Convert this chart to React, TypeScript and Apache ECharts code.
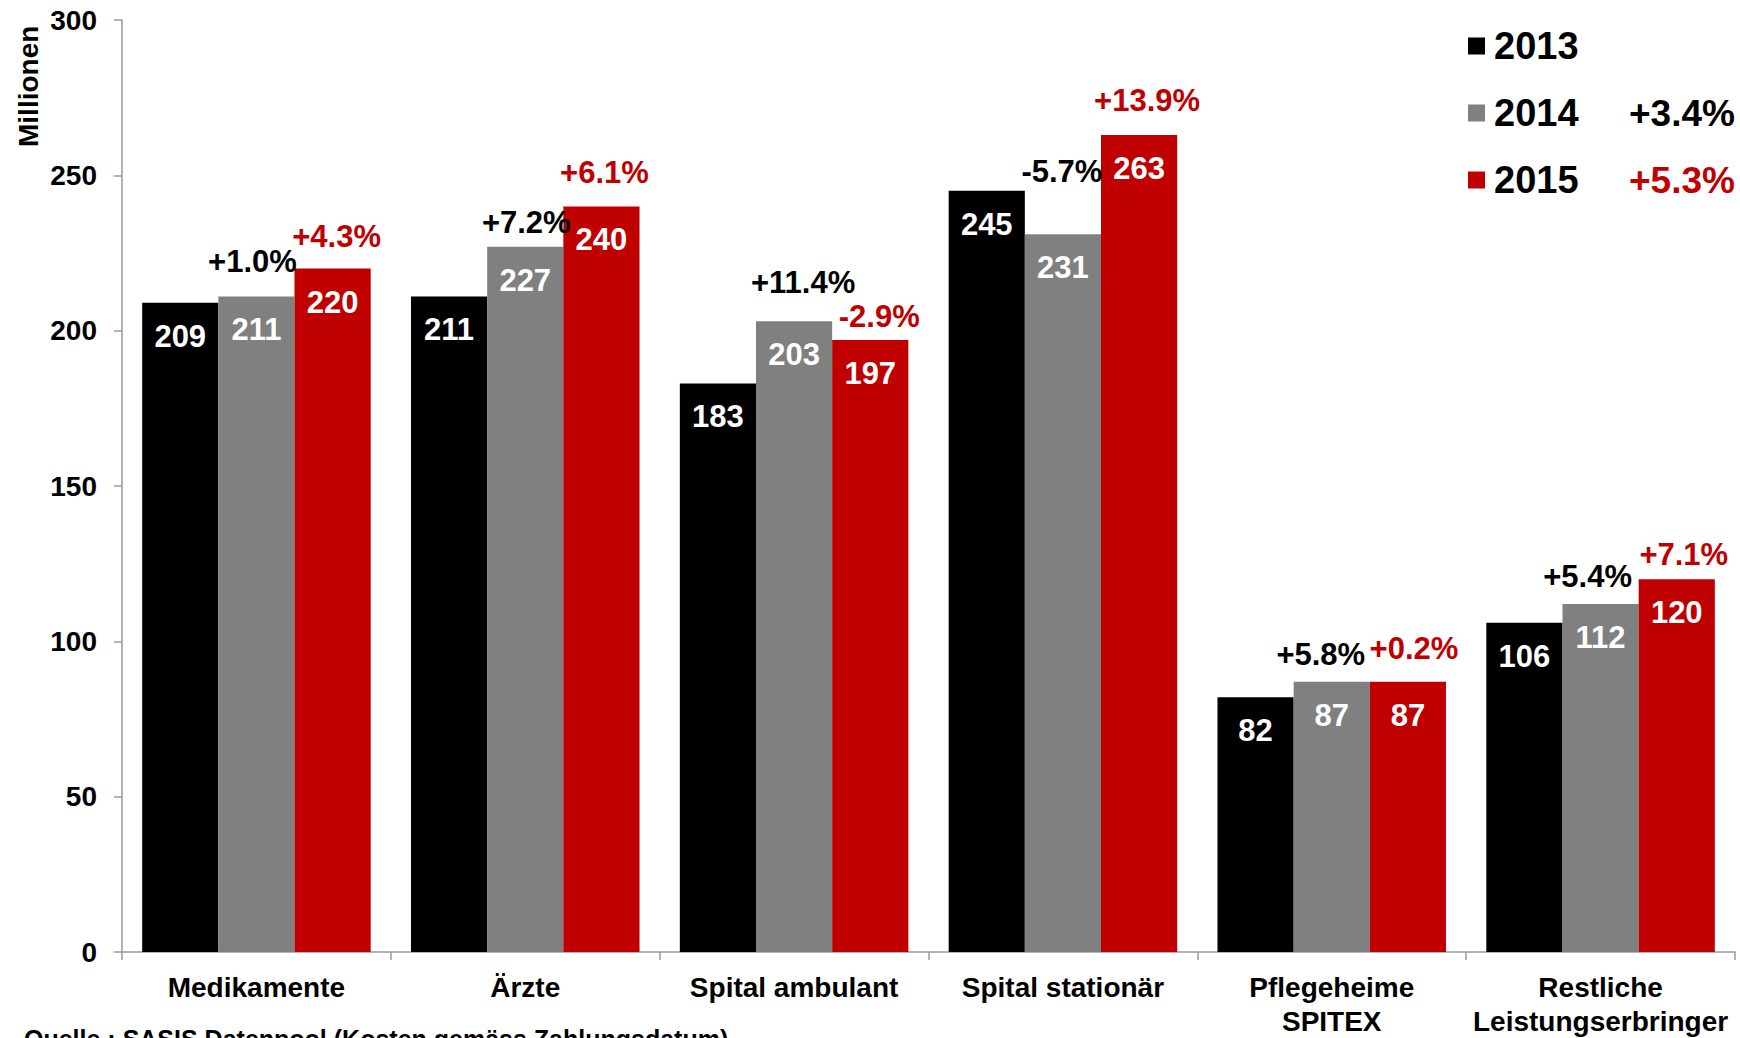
import React, { useEffect, useRef } from "react";
import * as echarts from "echarts";

const categories = [
  "Medikamente",
  "Ärzte",
  "Spital ambulant",
  "Spital stationär",
  "Pflegeheime\nSPITEX",
  "Restliche\nLeistungserbringer",
];
const years = ["2013", "2014", "2015"];
const values2013 = [209, 211, 183, 245, 82, 106];
const values2014 = [211, 227, 203, 231, 87, 112];
const values2015 = [220, 240, 197, 263, 87, 120];
const growth2014 = ["+1.0%", "+7.2%", "+11.4%", "-5.7%", "+5.8%", "+5.4%"];
const growth2015 = ["+4.3%", "+6.1%", "-2.9%", "+13.9%", "+0.2%", "+7.1%"];
const totalGrowth = ["", "+3.4%", "+5.3%"];
const yMin = 0;
const yMax = 300;
const yStep = 50;
const axisTitle = "Millionen";
const sourceNote = "Quelle : SASIS Datenpool (Kosten gemäss Zahlungsdatum)";

const FONT = "'Liberation Sans', Arial, sans-serif";
const BLACK = "#000000";
const GRAY = "#808080";
const RED = "#C00000";

// label placement tweaks [dx, distance above bar]
const lift14 = [[-4, 19], [1, 9], [9, 23], [-1, 47], [-11, 12], [-13, 12]];
const lift15 = [[4, 17], [3, 18], [9, 8], [8, 19], [6, 18], [7, 9]];

export default function App() {
  const ref = useRef<HTMLDivElement>(null);

  useEffect(() => {
    if (!ref.current) return;
    const chart = echarts.init(ref.current, null, { renderer: "svg" });

    const valueLabel = {
      show: true,
      position: "insideTop",
      distance: 18,
      color: "#ffffff",
      fontSize: 31,
      fontWeight: "bold",
      fontFamily: FONT,
    };

    const bar = (name: string, data: number[], color: string, stack?: string) => ({
      type: "bar",
      name,
      stack,
      data,
      barGap: "0%",
      barCategoryGap: "15%",
      itemStyle: { color },
      label: valueLabel,
    });

    const pctSeries = (stack: string, texts: string[], lift: number[][], color: string) => ({
      type: "bar",
      name: stack + "-pct",
      stack,
      silent: true,
      barGap: "0%",
      barCategoryGap: "15%",
      itemStyle: { color: "transparent" },
      data: texts.map((t, i) => ({
        value: 0,
        label: {
          show: true,
          position: "top",
          distance: lift[i][1],
          offset: [lift[i][0], 0],
          formatter: () => t,
          color,
          fontSize: 31,
          fontWeight: "bold",
          fontFamily: FONT,
        },
      })),
    });

    const option: any = {
      animation: false,
      backgroundColor: "#ffffff",
      grid: { left: 122, right: 5, top: 20, bottom: 84, containLabel: false },
      legend: {
        data: years,
        orient: "vertical",
        left: 1463,
        top: 21,
        itemWidth: 17,
        itemHeight: 17,
        itemGap: 27,
        icon: "rect",
        selectedMode: false,
        formatter: (name: string) => {
          const i = years.indexOf(name);
          const p = totalGrowth[i];
          if (!p) return `{y|${name}}`;
          return `{y|${name}}{${i === 2 ? "r" : "p"}|${p}}`;
        },
        textStyle: {
          fontSize: 37,
          fontWeight: "bold",
          fontFamily: FONT,
          color: "#000",
          lineHeight: 40,
          rich: {
            y: { width: 135, fontSize: 38, fontWeight: "bold", fontFamily: FONT, color: "#000", padding: [0, 0, 0, 4] },
            p: { fontSize: 37, fontWeight: "bold", fontFamily: FONT, color: "#000" },
            r: { fontSize: 37, fontWeight: "bold", fontFamily: FONT, color: RED },
          },
        },
      },
      xAxis: {
        type: "category",
        data: categories,
        axisLine: { show: true, lineStyle: { color: "#9a9a9a", width: 1.5 } },
        axisTick: { show: true, length: 8, lineStyle: { color: "#9a9a9a", width: 1.5 } },
        axisLabel: {
          interval: 0,
          margin: 18,
          color: "#000",
          fontSize: 28,
          fontWeight: "bold",
          fontFamily: FONT,
          lineHeight: 34,
        },
      },
      yAxis: {
        type: "value",
        min: yMin,
        max: yMax,
        interval: yStep,
        axisLine: { show: true, lineStyle: { color: "#9a9a9a", width: 1.5 } },
        axisTick: { show: true, length: 8, lineStyle: { color: "#9a9a9a", width: 1.5 } },
        splitLine: { show: false },
        axisLabel: {
          margin: 25,
          color: "#000",
          fontSize: 28,
          fontWeight: "bold",
          fontFamily: FONT,
        },
      },
      series: [
        bar(years[0], values2013, BLACK),
        bar(years[1], values2014, GRAY, "s2014"),
        pctSeries("s2014", growth2014, lift14, "#000000"),
        bar(years[2], values2015, RED, "s2015"),
        pctSeries("s2015", growth2015, lift15, RED),
      ],
      graphic: [
        {
          type: "text",
          x: 28,
          y: 147,
          rotation: Math.PI / 2,
          style: {
            text: axisTitle,
            fontSize: 28,
            fontWeight: "bold",
            fontFamily: FONT,
            fill: "#000",
            align: "left",
            verticalAlign: "middle",
          },
        },
        {
          type: "text",
          x: 24,
          y: 1026,
          style: {
            text: sourceNote,
            fontSize: 25,
            fontWeight: "bold",
            fontFamily: FONT,
            fill: "#000",
            align: "left",
            verticalAlign: "top",
          },
        },
      ],
    };

    chart.setOption(option);
    return () => chart.dispose();
  }, []);

  return (
    <div
      ref={ref}
      style={{ position: "fixed", left: 0, top: 0, width: 1740, height: 1038, background: "#fff" }}
    />
  );
}
